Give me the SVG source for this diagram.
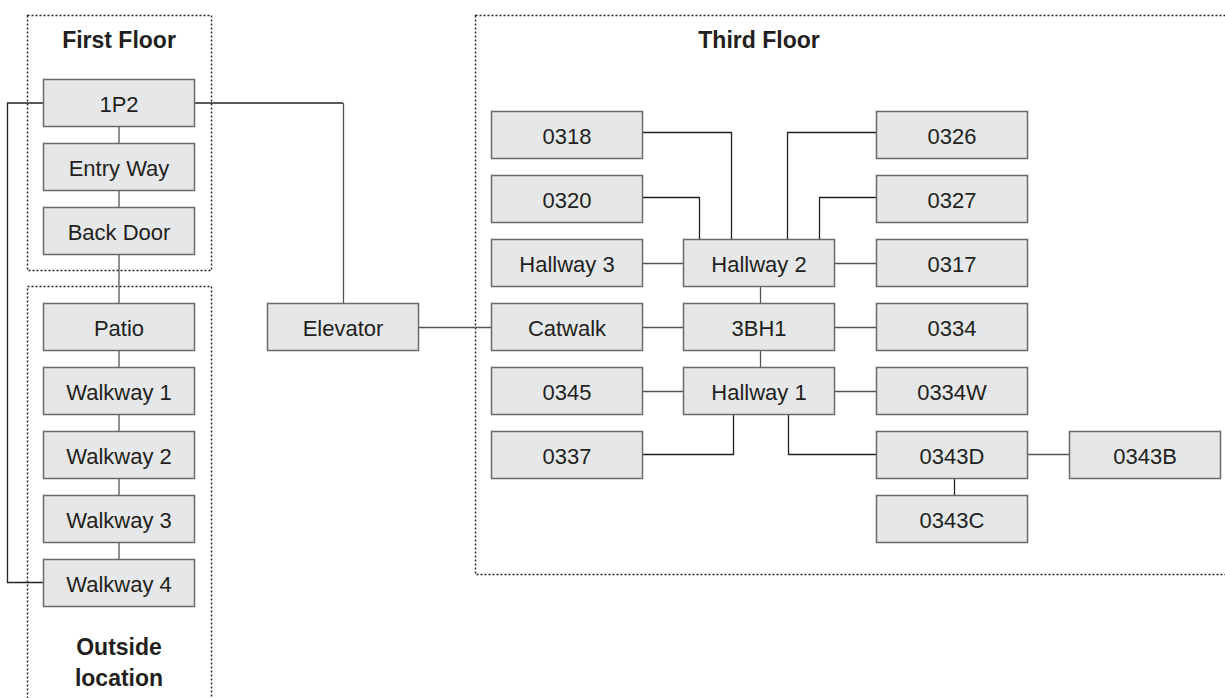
<svg xmlns="http://www.w3.org/2000/svg" width="1225" height="698" viewBox="0 0 1225 698">
<style>
.bg{fill:#ffffff}
.box rect{fill:#e6e7e8;stroke:#6a6a6a;stroke-width:1.5}
.box text{font-family:"Liberation Sans",Arial,sans-serif;font-size:22px;fill:#231f20;text-anchor:middle}
.grp{fill:none;stroke:#222;stroke-width:1.4;stroke-dasharray:2 2}
.title{font-family:"Liberation Sans",Arial,sans-serif;font-size:23px;font-weight:bold;fill:#231f20;text-anchor:middle}
.conn path{fill:none;stroke:#555;stroke-width:1.3}
.conn path.dk{stroke:#222}
</style>
<rect class="bg" x="0" y="0" width="1225" height="698"/>
<g id="groups">
<rect class="grp" x="27.5" y="15.5" width="184" height="255"/>
<rect class="grp" x="27.5" y="286.5" width="184" height="430"/>
<rect class="grp" x="475.5" y="15.5" width="770" height="559"/>
<text class="title" x="119" y="48">First Floor</text>
<text class="title" x="119" y="655">Outside</text>
<text class="title" x="119" y="686">location</text>
<text class="title" x="759" y="48">Third Floor</text>
</g>
<g id="connectors" class="conn">
<path d="M119 126V143M119 190V207M119 254V303M119 350V367M119 414V431M119 478V495M119 542V559"/>
<path class="dk" d="M43 103H7.5V582.5H43"/>
<path class="dk" d="M194 103H343"/>
<path d="M343.5 103V303"/>
<path d="M419 327.5H491"/>
<path class="dk" d="M643 132.5H731.5V239"/>
<path class="dk" d="M643 197.5H699.5V239"/>
<path class="dk" d="M876 132.5H787.5V239"/>
<path class="dk" d="M876 197.5H819.5V239"/>
<path d="M643 263.5H683M835 263.5H876"/>
<path d="M760.5 287V303M760.5 351V367"/>
<path d="M643 327.5H683M835 327.5H876"/>
<path d="M643 391.5H683M835 391.5H876"/>
<path class="dk" d="M733.5 415V454.5H643"/>
<path class="dk" d="M788.5 415V454.5H876"/>
<path d="M1027 454.5H1069"/>
<path class="dk" d="M954.5 479V495"/>
</g>
<g id="n-1P2" class="box"><rect x="43.5" y="79.5" width="151" height="47"/><text x="119" y="112">1P2</text></g>
<g id="n-entry" class="box"><rect x="43.5" y="143.5" width="151" height="47"/><text x="119" y="176">Entry Way</text></g>
<g id="n-back" class="box"><rect x="43.5" y="207.5" width="151" height="47"/><text x="119" y="240">Back Door</text></g>
<g id="n-patio" class="box"><rect x="43.5" y="303.5" width="151" height="47"/><text x="119" y="336">Patio</text></g>
<g id="n-walk1" class="box"><rect x="43.5" y="367.5" width="151" height="47"/><text x="119" y="400">Walkway 1</text></g>
<g id="n-walk2" class="box"><rect x="43.5" y="431.5" width="151" height="47"/><text x="119" y="464">Walkway 2</text></g>
<g id="n-walk3" class="box"><rect x="43.5" y="495.5" width="151" height="47"/><text x="119" y="528">Walkway 3</text></g>
<g id="n-walk4" class="box"><rect x="43.5" y="559.5" width="151" height="47"/><text x="119" y="592">Walkway 4</text></g>
<g id="n-elevator" class="box"><rect x="267.5" y="303.5" width="151" height="47"/><text x="343" y="336">Elevator</text></g>
<g id="n-0318" class="box"><rect x="491.5" y="111.5" width="151" height="47"/><text x="567" y="144">0318</text></g>
<g id="n-0320" class="box"><rect x="491.5" y="175.5" width="151" height="47"/><text x="567" y="208">0320</text></g>
<g id="n-hall3" class="box"><rect x="491.5" y="239.5" width="151" height="47"/><text x="567" y="272">Hallway 3</text></g>
<g id="n-catwalk" class="box"><rect x="491.5" y="303.5" width="151" height="47"/><text x="567" y="336">Catwalk</text></g>
<g id="n-0345" class="box"><rect x="491.5" y="367.5" width="151" height="47"/><text x="567" y="400">0345</text></g>
<g id="n-0337" class="box"><rect x="491.5" y="431.5" width="151" height="47"/><text x="567" y="464">0337</text></g>
<g id="n-hall2" class="box"><rect x="683.5" y="239.5" width="151" height="47"/><text x="759" y="272">Hallway 2</text></g>
<g id="n-3BH1" class="box"><rect x="683.5" y="303.5" width="151" height="47"/><text x="759" y="336">3BH1</text></g>
<g id="n-hall1" class="box"><rect x="683.5" y="367.5" width="151" height="47"/><text x="759" y="400">Hallway 1</text></g>
<g id="n-0326" class="box"><rect x="876.5" y="111.5" width="151" height="47"/><text x="952" y="144">0326</text></g>
<g id="n-0327" class="box"><rect x="876.5" y="175.5" width="151" height="47"/><text x="952" y="208">0327</text></g>
<g id="n-0317" class="box"><rect x="876.5" y="239.5" width="151" height="47"/><text x="952" y="272">0317</text></g>
<g id="n-0334" class="box"><rect x="876.5" y="303.5" width="151" height="47"/><text x="952" y="336">0334</text></g>
<g id="n-0334W" class="box"><rect x="876.5" y="367.5" width="151" height="47"/><text x="952" y="400">0334W</text></g>
<g id="n-0343D" class="box"><rect x="876.5" y="431.5" width="151" height="47"/><text x="952" y="464">0343D</text></g>
<g id="n-0343C" class="box"><rect x="876.5" y="495.5" width="151" height="47"/><text x="952" y="528">0343C</text></g>
<g id="n-0343B" class="box"><rect x="1069.5" y="431.5" width="151" height="47"/><text x="1145" y="464">0343B</text></g>
</svg>
